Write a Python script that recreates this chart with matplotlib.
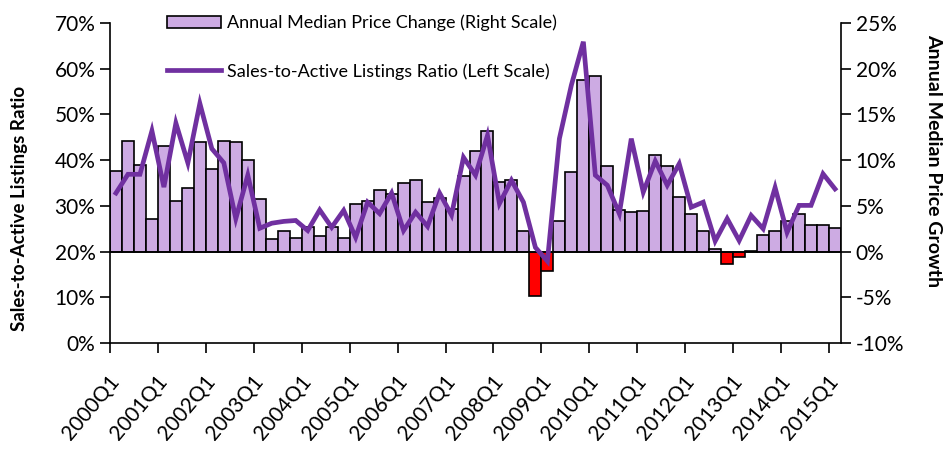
import matplotlib.pyplot as plt
from matplotlib.patches import Patch
from matplotlib.lines import Line2D

# quarterly data, 2000Q1 .. 2015Q1
price_change = [8.8, 12.1, 9.5, 3.6, 11.5, 5.5, 6.9, 12.0, 9.0, 12.1,
                12.0, 10.0, 5.7, 1.35, 2.3, 1.5, 2.7, 1.7, 2.7, 1.5,
                5.2, 5.5, 6.75, 6.3, 7.5, 7.8, 5.4, 5.9, 4.7, 8.3,
                11.0, 13.2, 7.6, 7.8, 2.2, -4.9, -2.15, 3.3, 8.65, 18.8,
                19.2, 9.35, 4.6, 4.35, 4.45, 10.6, 9.35, 6.0, 4.1, 2.2,
                0.3, -1.35, -0.6, 0.1, 1.8, 2.2, 3.3, 4.1, 2.9, 2.9,
                2.55]

sales_ratio = [32.8, 36.9, 36.9, 46.4, 34.1, 48.1, 39.4, 52.4, 42.5, 39.4,
               27.2, 36.7, 25.1, 26.2, 26.6, 26.8, 24.6, 29.1, 25.3, 29.0,
               23.1, 30.8, 28.3, 32.8, 24.6, 28.6, 25.5, 32.8, 28.0, 40.6,
               36.7, 45.4, 30.5, 35.6, 30.8, 20.9, 17.9, 44.7, 56.4, 65.9,
               36.7, 34.5, 28.3, 44.7, 33.0, 39.8, 34.5, 39.2, 29.7, 30.8,
               22.3, 27.2, 22.4, 27.9, 25.0, 34.0, 24.2, 30.1, 30.1, 37.0,
               33.7]

year_labels = ['2000Q1', '2001Q1', '2002Q1', '2003Q1', '2004Q1', '2005Q1',
               '2006Q1', '2007Q1', '2008Q1', '2009Q1', '2010Q1', '2011Q1',
               '2012Q1', '2013Q1', '2014Q1', '2015Q1']

bar_color = '#CDABE3'
line_color = '#7030A0'

plt.rcParams['font.family'] = ['Lato', 'DejaVu Sans']

fig = plt.figure(figsize=(9.44, 4.49), dpi=100)
ax = fig.add_axes([0.1165, 0.2361, 0.7744, 0.7127])
ax2 = ax.twinx()

# bars on the right scale
x = list(range(len(price_change)))
colors = [bar_color if v >= 0 else 'red' for v in price_change]
ax2.bar(x, price_change, width=1.0, color=colors, edgecolor='black', linewidth=1.2)
ax2.axhline(0, color='black', linewidth=1.2)
ax2.set_ylim(-10, 25)
ax2.set_yticks(range(-10, 30, 5))
ax2.set_yticklabels([f"{v}%" for v in range(-10, 30, 5)])

# line on the left scale, drawn above the bars
ax.set_zorder(ax2.get_zorder() + 1)
ax.patch.set_visible(False)
ax.plot(x, [v / 100 for v in sales_ratio], color=line_color, linewidth=3.4,
        solid_joinstyle='miter')
ax.set_ylim(0, 0.7)
ax.set_yticks([i / 10 for i in range(8)])
ax.set_yticklabels([f"{i * 10}%" for i in range(8)])
ax.set_xlim(-0.5, len(x) - 0.5)

# x ticks at quarter boundaries, labels on Q1 bars
ax.set_xticks([i * 4 - 0.5 for i in range(len(year_labels))])
ax.set_xticklabels([])
ax.set_xticks([i * 4 for i in range(len(year_labels))], minor=True)
ax.set_xticklabels(year_labels, minor=True, rotation=50, ha='right',
                   va='center', rotation_mode='anchor', fontsize=15)
ax.tick_params(axis='x', which='minor', length=0, pad=25)
ax.tick_params(axis='x', which='major', length=7, width=1.2, direction='out')
ax.tick_params(axis='y', labelsize=15, length=7, width=1.2)
ax2.tick_params(axis='y', labelsize=15, length=7, width=1.2)

for a in (ax, ax2):
    a.spines['top'].set_visible(False)
    for s in a.spines.values():
        s.set_linewidth(1.2)
ax.spines['right'].set_visible(False)
ax2.spines['left'].set_visible(False)
ax2.spines['bottom'].set_visible(False)

ax.set_ylabel('Sales-to-Active Listings Ratio', fontsize=13.5, fontweight='bold')
ax.yaxis.set_label_coords(-0.112, 0.42)
ax2.set_ylabel('Annual Median Price Growth', fontsize=14, fontweight='bold',
               rotation=-90, va='center')
ax2.yaxis.set_label_coords(1.126, 0.57)

handles = [Patch(facecolor=bar_color, edgecolor='black', linewidth=1.2),
           Line2D([0], [0], color=line_color, linewidth=3.4)]
labels = ['Annual Median Price Change (Right Scale)',
          'Sales-to-Active Listings Ratio (Left Scale)']
fig.legend(handles, labels, loc='upper left', bbox_to_anchor=(0.163, 0.995),
           frameon=False, fontsize=13, handlelength=3.0, handletextpad=0.35,
           labelspacing=1.75, borderpad=0.2)

plt.savefig('out.png', dpi=100)
